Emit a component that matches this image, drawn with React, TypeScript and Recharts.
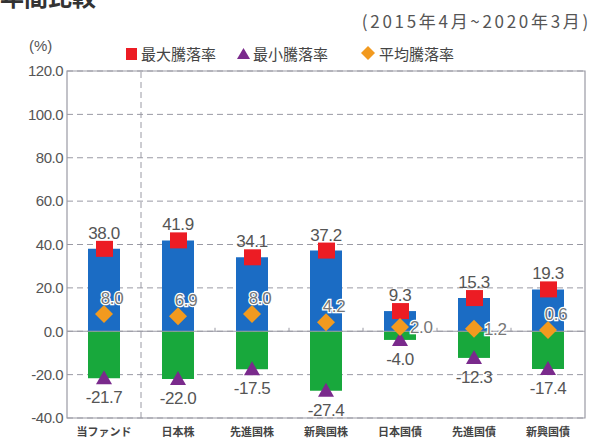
import React from 'react';
import {
  ComposedChart, Bar, Line, XAxis, YAxis, CartesianGrid, ReferenceLine, ReferenceArea,
} from 'recharts';

const categories = ['当ファンド', '日本株', '先進国株', '新興国株', '日本国債', '先進国債', '新興国債'];
const maxValues = [38.0, 41.9, 34.1, 37.2, 9.3, 15.3, 19.3];
const minValues = [-21.7, -22.0, -17.5, -27.4, -4.0, -12.3, -17.4];
const avgValues = [8.0, 6.9, 8.0, 4.2, 2.0, 1.2, 0.6];
const yTicks = [-40, -20, 0, 20, 40, 60, 80, 100, 120];
const legendLabels = ['最大騰落率', '最小騰落率', '平均騰落率'];
const avgLabelSide = ['top', 'top', 'top', 'top', 'right', 'right', 'top'];

const data = categories.map((name, i) => ({
  name,
  max: maxValues[i],
  min: minValues[i],
  avg: avgValues[i],
}));

const BLUE = '#1b6cc4';
const GREEN = '#18a83c';
const RED = '#ec1c24';
const PURPLE = '#7a2a8c';
const ORANGE = '#f29a1f';
const GRID = '#9a9aa4';
const NUM_FONT = '"Liberation Sans Narrow", "Liberation Sans", Arial, sans-serif';
const JP_FONT = '"Noto Sans CJK JP", sans-serif';

const SquareDot = (p: any) => {
  const { cx, cy } = p;
  if (cx == null || cy == null) return null;
  return <rect x={cx - 8} y={cy - 8} width={17} height={16} fill={RED} />;
};
const TriDot = (p: any) => {
  const { cx, cy } = p;
  if (cx == null || cy == null) return null;
  return <polygon points={`${cx},${cy - 8} ${cx + 8},${cy + 6} ${cx - 8},${cy + 6}`} fill={PURPLE} />;
};
const DiamondDot = (p: any) => {
  const { cx, cy } = p;
  if (cx == null || cy == null) return null;
  return <polygon points={`${cx},${cy - 9} ${cx + 9},${cy} ${cx},${cy + 9} ${cx - 9},${cy}`} fill={ORANGE} />;
};

const numStyle = { fontFamily: NUM_FONT, fontSize: 17, letterSpacing: -0.4 };

const MaxLabel = (p: any) => {
  const { x, y, value } = p;
  return (
    <text x={x} y={y - 16} dy="0.35em" textAnchor="middle" fill="#555" style={numStyle}>
      {Number(value).toFixed(1)}
    </text>
  );
};
const MinLabel = (p: any) => {
  const { x, y, value } = p;
  return (
    <text x={x} y={y + 19} dy="0.35em" textAnchor="middle" fill="#555" style={numStyle}>
      {Number(value).toFixed(1)}
    </text>
  );
};
const AvgLabel = (p: any) => {
  const { x, y, value, index } = p;
  const side = avgLabelSide[index];
  const tx = side === 'right' ? x + 10 : x + 8;
  const ty = side === 'right' ? y : y - 16;
  return (
    <text
      x={tx} y={ty} dy="0.35em" textAnchor={side === 'right' ? 'start' : 'middle'}
      fill="#777" stroke="#fff" strokeWidth={2.5} paintOrder="stroke" style={numStyle}
    >
      {Number(value).toFixed(1)}
    </text>
  );
};

export default function App() {
  const boundaries = categories.slice(1, 6);
  return (
    <div style={{ position: 'absolute', left: 0, top: 0, width: 596, height: 443, background: '#fff', overflow: 'hidden' }}>
      <div style={{ position: 'absolute', left: 0, top: -22, fontFamily: JP_FONT, fontSize: 24, fontWeight: 700, color: '#333', whiteSpace: 'nowrap' }}>
        年間比較
      </div>
      <div style={{ position: 'absolute', right: 5, top: 8, fontFamily: JP_FONT, fontSize: 17, color: '#555', letterSpacing: 2.7, whiteSpace: 'nowrap' }}>
        (2015年4月~2020年3月)
      </div>
      <div style={{ position: 'absolute', left: 29, top: 37, fontFamily: NUM_FONT, fontSize: 15, color: '#555' }}>
        (%)
      </div>
      <div style={{ position: 'absolute', left: 0, top: 44, width: 596, height: 20, fontFamily: JP_FONT, fontSize: 15, color: '#444' }}>
        <svg style={{ position: 'absolute', left: 126, top: 3 }} width={12} height={14}>
          <rect x={0} y={1} width={11} height={12} fill={RED} />
        </svg>
        <span style={{ position: 'absolute', left: 141, top: -1, whiteSpace: 'nowrap' }}>{legendLabels[0]}</span>
        <svg style={{ position: 'absolute', left: 237, top: 3 }} width={14} height={14}>
          <polygon points="6.5,1 13,12 0,12" fill={PURPLE} />
        </svg>
        <span style={{ position: 'absolute', left: 253, top: -1, whiteSpace: 'nowrap' }}>{legendLabels[1]}</span>
        <svg style={{ position: 'absolute', left: 361, top: 2 }} width={14} height={14}>
          <polygon points="7,0 14,7 7,14 0,7" fill={ORANGE} />
        </svg>
        <span style={{ position: 'absolute', left: 379, top: -1, whiteSpace: 'nowrap' }}>{legendLabels[2]}</span>
      </div>
      <div style={{ position: 'absolute', left: 0, top: 0 }}>
        <ComposedChart
          width={596}
          height={443}
          data={data}
          stackOffset="sign"
          margin={{ top: 71, right: 11, bottom: 0, left: 0 }}
        >
          <CartesianGrid vertical={false} stroke={GRID} strokeDasharray="6 4" />
          <XAxis
            dataKey="name"
            height={25}
            axisLine={false}
            tickLine={false}
            interval={0}
            tickMargin={4}
            tick={{ fontFamily: JP_FONT, fontSize: 11, fontWeight: 700, fill: '#444' }}
          />
          <YAxis
            width={67}
            domain={[-40, 120]}
            ticks={yTicks}
            allowDataOverflow
            axisLine={false}
            tickLine={false}
            tickSize={2}
            tickMargin={2}
            tickFormatter={(v: number) => v.toFixed(1)}
            tick={{ fontFamily: NUM_FONT, fontSize: 15, fill: '#555', letterSpacing: -0.5 }}
          />
          <ReferenceArea y1={-40} y2={120} fill="none" stroke={GRID} strokeWidth={1.2} />
          <ReferenceLine x={categories[0]} position="end" stroke={GRID} strokeDasharray="6 4" />
          <Bar dataKey="max" stackId="s" fill={BLUE} barSize={32} isAnimationActive={false} />
          <Bar dataKey="min" stackId="s" fill={GREEN} barSize={32} isAnimationActive={false} />
          <ReferenceLine y={0} stroke={GRID} strokeWidth={1.2} />
          {boundaries.map((c) => (
            <ReferenceLine
              key={c}
              position="end"
              segment={[{ x: c, y: 0 }, { x: c, y: 1.6 }]}
              stroke={GRID}
            />
          ))}
          <Line dataKey="max" stroke="none" dot={<SquareDot />} activeDot={false} label={<MaxLabel />} isAnimationActive={false} />
          <Line dataKey="min" stroke="none" dot={<TriDot />} activeDot={false} label={<MinLabel />} isAnimationActive={false} />
          <Line dataKey="avg" stroke="none" dot={<DiamondDot />} activeDot={false} label={<AvgLabel />} isAnimationActive={false} />
        </ComposedChart>
      </div>
    </div>
  );
}
